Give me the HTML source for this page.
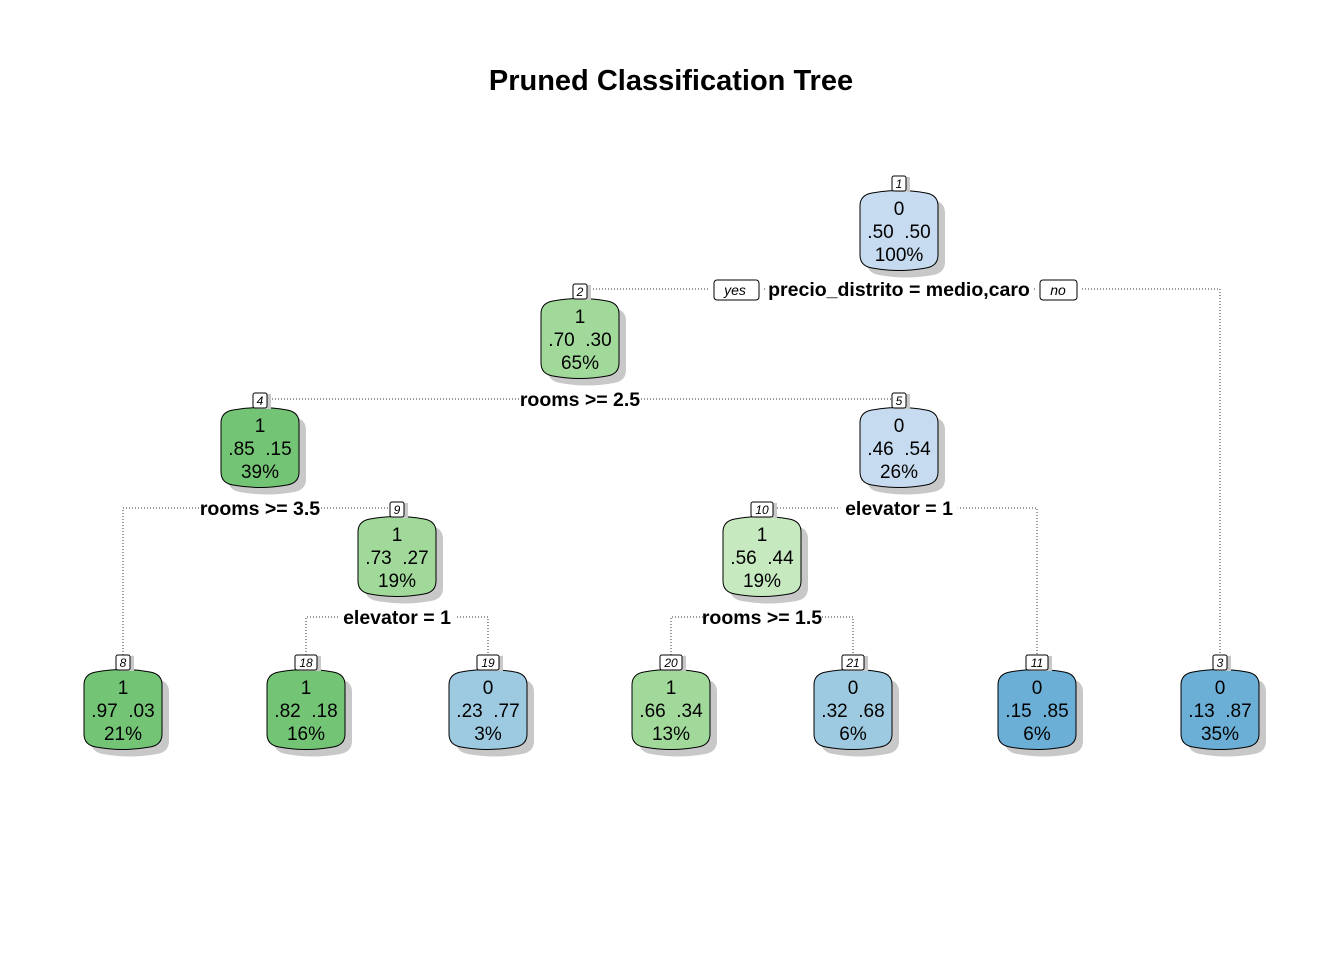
<!DOCTYPE html>
<html><head><meta charset="utf-8"><style>
html,body{margin:0;padding:0;background:#fff;}
svg{display:block;font-family:"Liberation Sans",sans-serif;}
text{white-space:pre;}
</style></head><body>
<svg id="s" width="1344" height="960" xmlns="http://www.w3.org/2000/svg" xml:space="preserve">
<text x="671" y="90" text-anchor="middle" font-size="29" font-weight="bold">Pruned Classification Tree</text>
<g id="lines" stroke="#333" stroke-width="1" stroke-dasharray="1,2" fill="none"></g>
<g id="nodes"></g>
<g id="labels" font-size="19.5" font-weight="bold" text-anchor="middle"></g>
</svg>
<script>
const N={
1:[899,192,'0','.50  .50','100%','#c6dbef'],
2:[580,300,'1','.70  .30','65%','#a1d99b'],
4:[260,409,'1','.85  .15','39%','#74c476'],
5:[899,409,'0','.46  .54','26%','#c6dbef'],
9:[397,518,'1','.73  .27','19%','#a1d99b'],
10:[762,518,'1','.56  .44','19%','#c7e9c0'],
8:[123,671,'1','.97  .03','21%','#74c476'],
18:[306,671,'1','.82  .18','16%','#74c476'],
19:[488,671,'0','.23  .77','3%','#9ecae1'],
20:[671,671,'1','.66  .34','13%','#a1d99b'],
21:[853,671,'0','.32  .68','6%','#9ecae1'],
11:[1037,671,'0','.15  .85','6%','#6baed6'],
3:[1220,671,'0','.13  .87','35%','#6baed6']};
const S=[[1,2,3,289,'precio_distrito = medio,caro',899],[2,4,5,399,'rooms >= 2.5',580],[4,8,9,508,'rooms >= 3.5',260],[5,10,11,508,'elevator = 1',899],[9,18,19,617,'elevator = 1',397],[10,20,21,617,'rooms >= 1.5',762]];
let L='',G='',T='';
function shape(l,t,r,b){const cx=(l+r)/2;return `M${l},${t+14} Q${l},${t+3} ${l+12},${t+1} Q${cx},${t-4} ${r-12},${t+1} Q${r},${t+3} ${r},${t+14} L${r},${b-14} Q${r},${b-3} ${r-12},${b-1} Q${cx},${b+4} ${l+12},${b-1} Q${l},${b-3} ${l},${b-14} Z`;}
for(const k in N){const [cx,t,a,b,c,col]=N[k];const l=cx-39,r=cx+39,bt=t+77;
G+=`<path d="${shape(l+7,t+7,r+7,bt+7)}" fill="#c8c8c8"/>`;
G+=`<path d="${shape(l,t,r,bt)}" fill="${col}" stroke="#000" stroke-width="1"/>`;
G+=`<text x="${cx}" y="${t+23}" text-anchor="middle" font-size="19">${a}</text>`;
G+=`<text x="${cx}" y="${t+46}" text-anchor="middle" font-size="19">${b}</text>`;
G+=`<text x="${cx}" y="${t+69}" text-anchor="middle" font-size="19">${c}</text>`;
const w=k.length>1?22:14;
G+=`<rect x="${cx-w/2+4}" y="${t-15}" width="${w}" height="15" fill="#c8c8c8"/>`;
G+=`<rect x="${cx-w/2}" y="${t-16}" width="${w}" height="15" rx="2" fill="#fff" stroke="#000"/>`;
G+=`<text x="${cx}" y="${t-4}" text-anchor="middle" font-size="12" font-style="italic">${k}</text>`;}
for(const [p,a,b,y,lab,lx] of S){const A=N[a],B=N[b];
L+=`<path d="M${A[0]},${A[1]-16} L${A[0]},${y} L${B[0]},${y} L${B[0]},${B[1]-16}"/>`;
const w=lab.length*9.3+6;
T+=`<rect x="${lx-w/2}" y="${y-11}" width="${w}" height="20" fill="#fff"/>`;
T+=`<text x="${lx}" y="${y+7}">${lab}</text>`;}
T+=`<rect x="710" y="279" width="52" height="20" fill="#fff"/><rect x="714" y="280" width="45" height="20" rx="3" fill="#fff" stroke="#000" stroke-width="1"/><text x="735" y="295" font-size="14" font-weight="normal" font-style="italic">yes</text>`;
T+=`<rect x="1036" y="279" width="46" height="20" fill="#fff"/><rect x="1040" y="280" width="37" height="20" rx="3" fill="#fff" stroke="#000" stroke-width="1"/><text x="1058" y="295" font-size="14" font-weight="normal" font-style="italic">no</text>`;
document.getElementById('lines').innerHTML=L;
document.getElementById('nodes').innerHTML=G;
document.getElementById('labels').innerHTML=T;
</script>
</body></html>
